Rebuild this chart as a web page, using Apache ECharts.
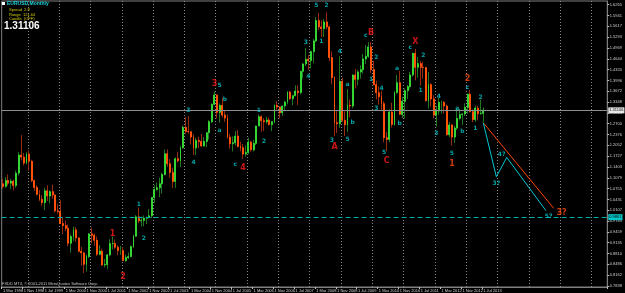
<!DOCTYPE html>
<html><head><meta charset="utf-8">
<script src="https://cdn.jsdelivr.net/npm/echarts@6/dist/echarts.min.js"></script>
<style>html,body{margin:0;padding:0;background:#000}#c{width:625px;height:293px}</style>
</head><body><div id="c"></div>
<script>
// ---- categories (monthly bars, first bar Mar 1998, axis runs on to Jun 2017) ----
const firstMonth = '1998-03';
const lastAxisMonth = '2017-06';
const categories = (function () {
  const out = []; let y = 1998, m = 3;
  while (true) {
    const s = y + '-' + String(m).padStart(2, '0');
    out.push(s);
    if (s === lastAxisMonth) break;
    m++; if (m > 12) { m = 1; y++; }
  }
  return out;
})();

// ---- monthly OHLC, Mar 1998 .. Jul 2013 (one row per year) ----
const open = [
 1.090,1.082,1.100,1.092,1.098,1.085,1.122,1.176,1.170,1.152,
 1.1790,1.1575,1.0995,1.0790,1.0585,1.0435,1.0336,1.0690,1.0535,1.0665,1.0565,1.0090,
 1.0070,0.9710,0.9650,0.9570,0.9120,0.9320,0.9520,0.9280,0.8880,0.8830,0.8490,0.8720,
 0.9400,0.9360,0.9210,0.8790,0.8880,0.8470,0.8480,0.8770,0.9110,0.9110,0.9000,0.8900,
 0.8900,0.8600,0.8690,0.8720,0.9020,0.9330,0.9910,0.9790,0.9800,0.9870,0.9890,0.9940,
 1.0490,1.0730,1.0780,1.0900,1.1180,1.1800,1.1500,1.1240,1.0970,1.1650,1.1590,1.1980,
 1.2590,1.2470,1.2460,1.2300,1.1970,1.2200,1.2170,1.2030,1.2170,1.2430,1.2760,1.3280,
 1.3560,1.3040,1.3250,1.2960,1.2870,1.2300,1.2100,1.2130,1.2330,1.2020,1.1980,1.1790,
 1.1840,1.2150,1.1920,1.2110,1.2630,1.2910,1.2790,1.2760,1.2810,1.2670,1.2760,1.3250,
 1.3200,1.3030,1.3230,1.3350,1.3650,1.3450,1.3540,1.3680,1.3630,1.4270,1.4490,1.4630,
 1.4590,1.4860,1.5180,1.5790,1.5600,1.5550,1.5750,1.5600,1.4680,1.4080,1.2730,1.2700,
 1.3970,1.2800,1.2670,1.3250,1.3230,1.4160,1.4030,1.4250,1.4320,1.4640,1.4720,1.5000,
 1.4320,1.3870,1.3630,1.3510,1.3300,1.2280,1.2230,1.3050,1.2680,1.3630,1.3930,1.2980,
 1.3370,1.3690,1.3810,1.4160,1.4810,1.4390,1.4500,1.4390,1.4380,1.3390,1.3870,1.3440,
 1.2960,1.3080,1.3340,1.3340,1.3230,1.2370,1.2660,1.2300,1.2570,1.2860,1.2970,1.2990,
 1.3190,1.3580,1.3060,1.2820,1.3170,1.3000,1.3010
];
const high = [
 1.105,1.110,1.118,1.105,1.102,1.130,1.185,1.236,1.182,1.185,
 1.1905,1.1620,1.1025,1.0860,1.0720,1.0560,1.0780,1.0860,1.0700,1.0880,1.0580,1.0300,
 1.0410,0.9910,0.9800,0.9680,0.9380,0.9620,0.9600,0.9290,0.9010,0.8870,0.8780,0.9420,
 0.9590,0.9410,0.9320,0.9060,0.8960,0.8650,0.8800,0.9240,0.9320,0.9230,0.9060,0.9040,
 0.9000,0.8780,0.8840,0.9050,0.9380,0.9960,1.0190,0.9920,0.9950,0.9920,1.0140,1.0500,
 1.0860,1.0930,1.1080,1.1230,1.1930,1.1930,1.1640,1.1380,1.1690,1.1850,1.2040,1.2650,
 1.2900,1.2930,1.2460,1.2380,1.2280,1.2310,1.2390,1.2300,1.2440,1.2810,1.3310,1.3667,
 1.3580,1.3310,1.3480,1.3100,1.2970,1.2400,1.2320,1.2480,1.2510,1.2160,1.2090,1.2050,
 1.2280,1.2180,1.2220,1.2640,1.2980,1.2950,1.2870,1.2910,1.2880,1.2780,1.3280,1.3370,
 1.3220,1.3250,1.3390,1.3680,1.3680,1.3540,1.3850,1.3850,1.4280,1.4510,1.4970,1.4750,
 1.4880,1.5240,1.5900,1.6020,1.5800,1.5840,1.6038,1.5640,1.4870,1.4120,1.3080,1.4720,
 1.4080,1.3070,1.3740,1.3430,1.4180,1.4340,1.4310,1.4450,1.4790,1.5060,1.5140,1.5140,
 1.4580,1.3990,1.3820,1.3690,1.3370,1.2450,1.3130,1.3330,1.3680,1.4160,1.4280,1.3500,
 1.3760,1.3860,1.4250,1.4820,1.4940,1.4700,1.4580,1.4550,1.4400,1.4250,1.3920,1.3550,
 1.3230,1.3480,1.3390,1.3380,1.3280,1.2750,1.2690,1.2640,1.3170,1.3140,1.3010,1.3310,
 1.3600,1.3710,1.3130,1.3240,1.3240,1.3420,1.3190
];
const low = [
 1.075,1.078,1.085,1.075,1.070,1.078,1.115,1.160,1.145,1.148,
 1.1290,1.0950,1.0690,1.0550,1.0380,1.0240,1.0110,1.0380,1.0310,1.0450,1.0040,1.0000,
 0.9700,0.9390,0.9480,0.9030,0.8840,0.9190,0.9160,0.8850,0.8450,0.8228,0.8270,0.8670,
 0.9120,0.9040,0.8740,0.8760,0.8440,0.8400,0.8344,0.8730,0.8930,0.8940,0.8760,0.8770,
 0.8590,0.8564,0.8640,0.8700,0.8980,0.9320,0.9720,0.9620,0.9630,0.9690,0.9860,0.9870,
 1.0330,1.0690,1.0500,1.0610,1.1150,1.1410,1.1080,1.0770,1.0780,1.1530,1.1400,1.1950,
 1.2400,1.2400,1.2080,1.1760,1.1760,1.1960,1.2020,1.2030,1.2000,1.2230,1.2720,1.3270,
 1.2860,1.2730,1.2890,1.2760,1.2250,1.1950,1.1870,1.2040,1.1990,1.1870,1.1640,1.1710,
 1.1800,1.1860,1.1870,1.2060,1.2630,1.2460,1.2480,1.2700,1.2650,1.2480,1.2710,1.3120,
 1.2860,1.2930,1.3070,1.3280,1.3410,1.3260,1.3520,1.3260,1.3580,1.4060,1.4430,1.4310,
 1.4360,1.4510,1.5140,1.5510,1.5290,1.5300,1.5530,1.4580,1.3880,1.2330,1.2420,1.2580,
 1.2760,1.2330,1.2450,1.2890,1.3160,1.3750,1.3850,1.4050,1.4200,1.4490,1.4670,1.4220,
 1.3860,1.3430,1.3270,1.3110,1.2140,1.1876,1.2150,1.2590,1.2640,1.3600,1.2970,1.2870,
 1.2860,1.3440,1.3750,1.4110,1.4000,1.4080,1.3840,1.4050,1.3360,1.3150,1.3210,1.2860,
 1.2620,1.2970,1.3000,1.3000,1.2350,1.2290,1.2042,1.2130,1.2510,1.2800,1.2660,1.2930,
 1.3000,1.3040,1.2750,1.2750,1.2800,1.2970,1.2750
];
const close = [
 1.082,1.100,1.092,1.098,1.085,1.122,1.176,1.170,1.152,1.179,
 1.1575,1.0995,1.0790,1.0585,1.0435,1.0336,1.0690,1.0535,1.0665,1.0565,1.0090,1.0070,
 0.9710,0.9650,0.9570,0.9120,0.9320,0.9520,0.9280,0.8880,0.8830,0.8490,0.8720,0.9400,
 0.9360,0.9210,0.8790,0.8880,0.8470,0.8480,0.8770,0.9110,0.9110,0.9000,0.8900,0.8900,
 0.8600,0.8690,0.8720,0.9020,0.9330,0.9910,0.9790,0.9800,0.9870,0.9890,0.9940,1.0490,
 1.0730,1.0780,1.0900,1.1180,1.1800,1.1500,1.1240,1.0970,1.1650,1.1590,1.1980,1.2590,
 1.2470,1.2460,1.2300,1.1970,1.2200,1.2170,1.2030,1.2170,1.2430,1.2760,1.3280,1.3560,
 1.3040,1.3250,1.2960,1.2870,1.2300,1.2100,1.2130,1.2330,1.2020,1.1980,1.1790,1.1840,
 1.2150,1.1920,1.2110,1.2630,1.2910,1.2790,1.2760,1.2810,1.2670,1.2760,1.3250,1.3200,
 1.3030,1.3230,1.3350,1.3650,1.3450,1.3540,1.3680,1.3630,1.4270,1.4490,1.4630,1.4590,
 1.4860,1.5180,1.5790,1.5600,1.5550,1.5750,1.5600,1.4680,1.4080,1.2730,1.2700,1.3970,
 1.2800,1.2670,1.3250,1.3230,1.4160,1.4030,1.4250,1.4320,1.4640,1.4720,1.5000,1.4320,
 1.3870,1.3630,1.3510,1.3300,1.2280,1.2230,1.3050,1.2680,1.3630,1.3930,1.2980,1.3370,
 1.3690,1.3810,1.4160,1.4810,1.4390,1.4500,1.4390,1.4380,1.3390,1.3870,1.3440,1.2960,
 1.3080,1.3340,1.3340,1.3230,1.2370,1.2660,1.2300,1.2570,1.2860,1.2970,1.2990,1.3190,
 1.3580,1.3060,1.2820,1.3170,1.3000,1.3010,1.31106
];

// ---- price axis tick labels ----
const priceTicks = [1.6265,1.5941,1.5617,1.5293,1.4969,1.4644,1.4320,1.3996,1.3672,1.3348,
  1.3024,1.2700,1.2376,1.2052,1.1727,1.1403,1.1079,1.0755,1.0431,1.0107,0.9783,0.9459,
  0.9135,0.8810,0.8486,0.8162,0.7838];
const priceMin = 0.78086, priceMax = 1.63757;
const bidPrice = 1.31106;
const targetLevel = 0.9861;

// ---- Elliott wave labels [month, price, text] ----
const cyanLabels = [
 ['2002-07',1.0286,'1'],['2002-09',0.9267,'2'],['2004-02',1.3090,'3'],['2004-04',1.1553,'4'],
 ['2005-02',1.3839,'5'],['2005-02',1.2503,'a'],['2005-04',1.3440,'b'],['2005-08',1.1484,'c'],
 ['2006-05',1.3111,'1'],['2006-07',1.2182,'2'],['2007-11',1.5127,'3'],['2007-12',1.4108,'4'],
 ['2008-03',1.6256,'5'],['2008-05',1.5169,'1'],['2008-07',1.6235,'2'],['2008-09',1.2212,'3'],
 ['2008-12',1.4878,'4'],['2009-03',1.2242,'5'],['2009-03',1.3868,'a'],['2009-05',1.2751,'b'],
 ['2009-10',1.5348,'c'],['2009-12',1.4039,'1'],['2010-02',1.4698,'2'],['2010-02',1.3147,'3'],
 ['2010-04',1.3770,'4'],['2010-05',1.1853,'5'],['2010-10',1.4360,'a'],['2010-11',1.2700,'b'],
 ['2011-03',1.4977,'c'],['2011-07',1.3689,'1'],['2011-08',1.4749,'2'],['2012-01',1.2398,'3'],
 ['2012-02',1.3530,'4'],['2012-07',1.1823,'5'],['2012-09',1.3162,'a'],['2012-11',1.2482,'b'],
 ['2013-01',1.3791,'c'],['2013-04',1.2548,'1'],['2013-06',1.3479,'2'],
 ['2013-12',1.0915,'3?'],['2014-02',1.1793,'4?'],['2015-08',0.9935,'5?']
];
const redLabels = [
 ['2001-09',0.9387,'1'],['2002-01',0.8099,'2'],['2004-12',1.3880,'3'],['2005-11',1.1364,'4'],
 ['2008-10',1.2011,'A'],['2009-12',1.5408,'B'],['2010-06',1.1574,'C'],['2011-05',1.5139,'X']
];
const orangeLabels = [
 ['2012-07',1.1487,'1'],['2013-01',1.4054,'2'],['2016-01',1.0016,'3?']
];

// ---- projected paths [month, price] ----
const cyanPath = [['2013-07',1.2730],['2013-12',1.1110],['2014-04',1.1690],['2015-07',1.0096]];
const orangePath = [['2013-07',1.2730],['2015-10',1.0166]];

const monthNames = ['Jan','Feb','Mar','Apr','May','Jun','Jul','Aug','Sep','Oct','Nov','Dec'];
const lastBar = open.length - 1;
const labelEvery = (i) => i % 8 === 0 && i <= lastBar;

const candleData = open.map((o, i) => [o, close[i], low[i], high[i]]);
const bodyData = open.map((o, i) => [o, close[i], Math.min(o, close[i]), Math.max(o, close[i])]);
const toPts = arr => arr.map(d => ({ value: [d[0], d[1]], name: d[2] }));

function labelSeries(arr, color, size) {
  return {
    type: 'scatter', data: toPts(arr), symbolSize: 1, silent: true, z: 5,
    itemStyle: { color: 'rgba(0,0,0,0)' },
    label: { show: true, position: 'inside', formatter: '{b}', color: color,
      fontSize: size, fontWeight: 'bold', fontFamily: 'DejaVu Sans' }
  };
}

const chart = echarts.init(document.getElementById('c'), null, { renderer: 'canvas' });
chart.setOption({
  backgroundColor: '#000',
  animation: false,
  grid: { left: 0, right: 14.5, top: 1, bottom: 6, show: true, borderColor: '#7f7f7f', borderWidth: 1 },
  xAxis: {
    type: 'category', data: categories, boundaryGap: true,
    axisLine: { show: true, lineStyle: { color: '#7f7f7f' } },
    axisTick: { show: true, interval: labelEvery, length: 2, lineStyle: { color: '#bdbdbd' } },
    axisLabel: {
      interval: labelEvery, align: 'left', color: '#cfcfcf', fontSize: 4, margin: 1.5,
      fontFamily: 'Liberation Sans',
      formatter: v => '1 ' + monthNames[+v.slice(5) - 1] + ' ' + v.slice(0, 4)
    },
    splitLine: { show: true, interval: (i, v) => v.slice(5) === '01',
      lineStyle: { color: '#8a8a8a', type: [1, 2], width: 1 } }
  },
  yAxis: {
    type: 'value', position: 'right', min: priceMin, max: priceMax,
    axisLine: { show: true, lineStyle: { color: '#7f7f7f' } },
    axisTick: { show: true, customValues: priceTicks, length: 2, lineStyle: { color: '#bdbdbd' } },
    axisLabel: { customValues: priceTicks, formatter: v => v.toFixed(4), color: '#cfcfcf',
      fontSize: 4, margin: 2.5, fontFamily: 'Liberation Sans' },
    splitLine: { show: false }
  },
  graphic: [
    { type: 'rect', left: 2, top: 2, shape: { width: 3, height: 3 }, style: { fill: '#ffffff' } },
    { type: 'text', left: 7, top: 1.5, style: { text: 'EURUSD,Monthly', fill: '#19d3dc', font: 'bold 5px "Liberation Sans"' } },
    { type: 'text', left: 9, top: 8, style: { text: 'Spread  2.8', fill: '#d0c800', font: '4px "Liberation Sans"' } },
    { type: 'text', left: 9, top: 12.5, style: { text: 'Range  121.64', fill: '#d0c800', font: '4px "Liberation Sans"' } },
    { type: 'text', left: 9, top: 17, style: { text: 'Candle  (OFF)', fill: '#d0c800', font: '4px "Liberation Sans"' } },
    { type: 'text', left: 4, top: 21, style: { text: '1.31106', fill: '#ffffff', font: 'bold 10px "Liberation Sans"' } },
    { type: 'text', left: 2, top: 281.5, style: { text: 'FXDD MT4, \u00a9 2001-2011 MetaQuotes Software Corp.', fill: '#c8c8c8', font: '4px "Liberation Sans"' } }
  ],
  series: [
    {
      type: 'candlestick', data: candleData, barWidth: 1, z: 2,
      itemStyle: { color: '#1f7a1f', color0: '#9a2a10', borderColor: '#1f7a1f', borderColor0: '#9a2a10', borderWidth: 1 },
      markLine: {
        silent: true, symbol: ['none', 'none'], animation: false,
        data: [
          { yAxis: bidPrice, lineStyle: { color: '#8c8f92', type: 'solid', width: 1 },
            label: { show: true, position: 'end', distance: 1, formatter: '1.31106', color: '#000',
              backgroundColor: '#e8e8e8', fontSize: 4, padding: [1, 1], fontFamily: 'Liberation Sans' } },
          { yAxis: targetLevel, lineStyle: { color: '#00a8a8', type: [5, 3], width: 1 },
            label: { show: true, position: 'end', distance: 1, formatter: '0.9861', color: '#000',
              backgroundColor: '#00c8c8', fontSize: 4, padding: [1, 1], fontFamily: 'Liberation Sans' } }
        ]
      }
    },
    {
      type: 'candlestick', data: bodyData, barWidth: 1.4, z: 3,
      itemStyle: { color: '#33d633', color0: '#ff5208', borderColor: '#33d633', borderColor0: '#ff5208', borderWidth: 1 }
    },
    { type: 'line', data: orangePath, symbol: 'none', z: 4, lineStyle: { color: '#ff4500', width: 1 } },
    { type: 'line', data: cyanPath, symbol: 'none', z: 4, lineStyle: { color: '#00c8d0', width: 1 } },
    labelSeries(cyanLabels, '#00ced1', 6),
    labelSeries(redLabels, '#ff1a1a', 8),
    labelSeries(orangeLabels, '#ff4a12', 8)
  ]
});
</script>
</body></html>
